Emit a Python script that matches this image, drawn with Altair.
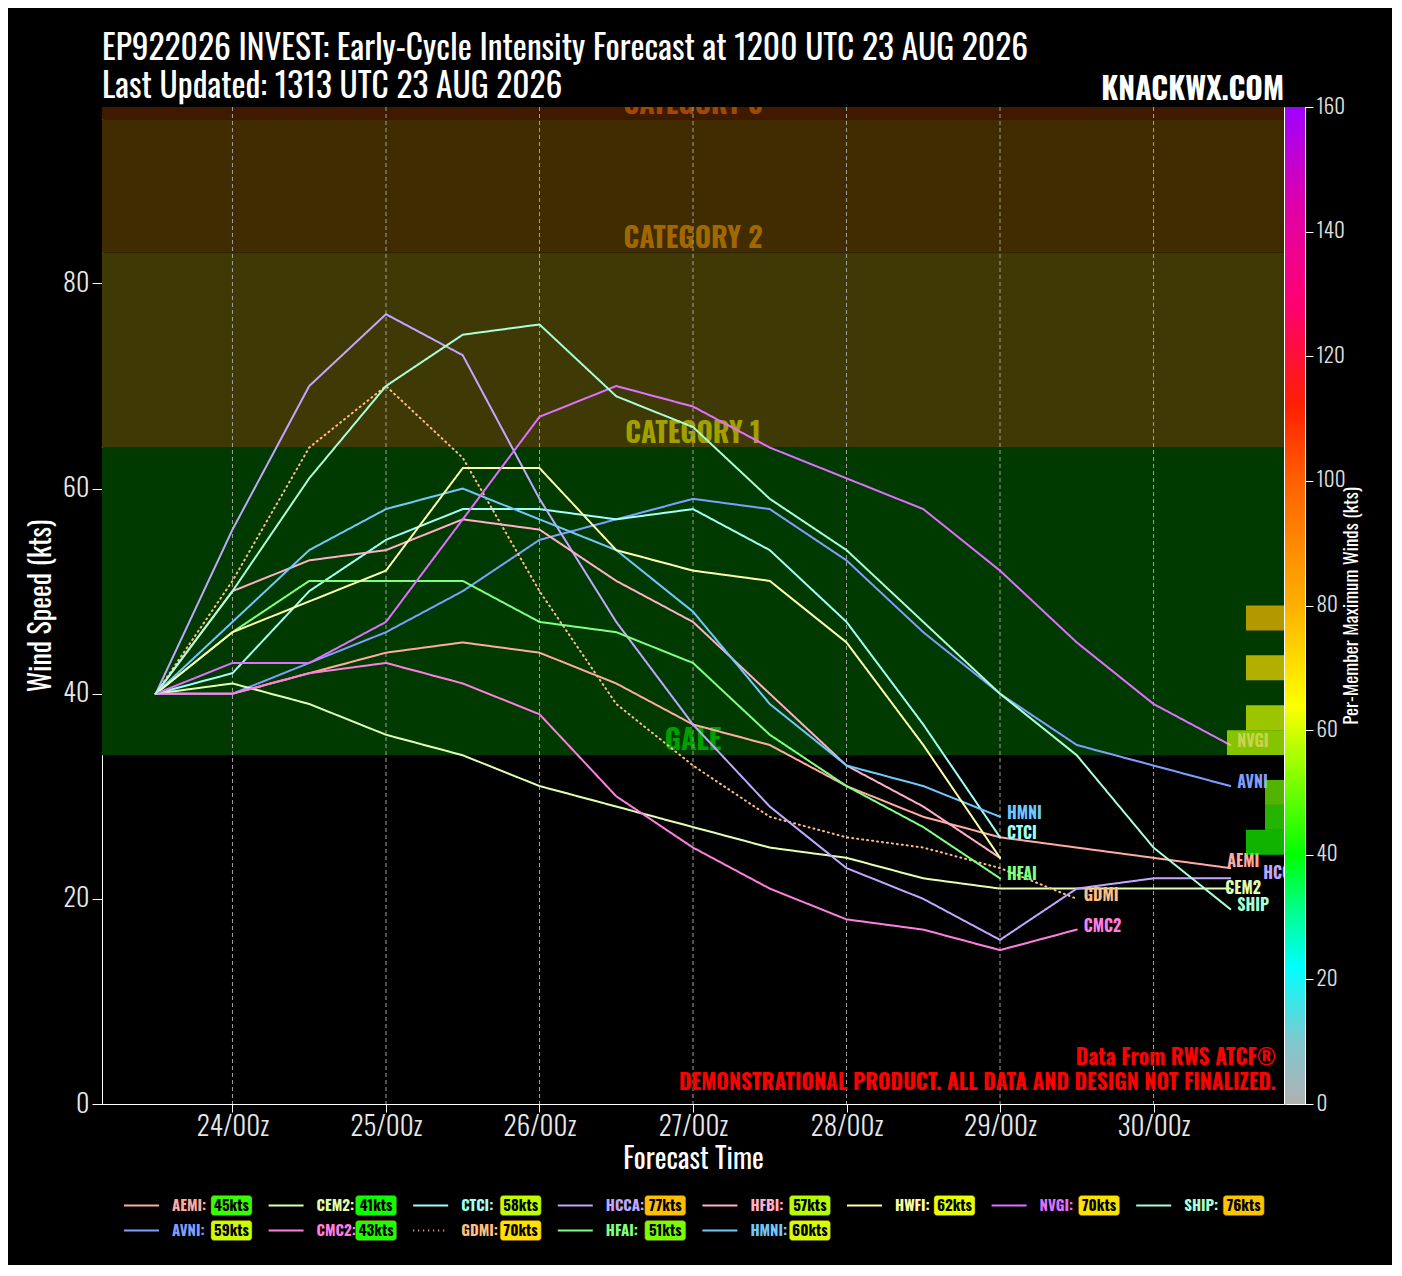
import altair as alt
import pandas as pd

FONT = "Oswald, 'Roboto Condensed', 'Liberation Sans Narrow', 'Arial Narrow', 'DejaVu Sans Condensed', sans-serif"

# ---------------- data ----------------
hours = [0, 12, 24, 36, 48, 60, 72, 84, 96, 108, 120, 132, 144, 156, 168]
models = ["AEMI", "AVNI", "CEM2", "CMC2", "CTCI", "GDMI", "HCCA",
          "HFAI", "HFBI", "HMNI", "HWFI", "NVGI", "SHIP"]

AEMI = [40, 40, 42, 44, 45, 44, 41, 37, 35, 31, 28, 26, 25, 24, 23]
AVNI = [40, 40, 43, 46, 50, 55, 57, 59, 58, 53, 46, 40, 35, 33, 31]
CEM2 = [40, 41, 39, 36, 34, 31, 29, 27, 25, 24, 22, 21, 21, 21, 21]
CMC2 = [40, 40, 42, 43, 41, 38, 30, 25, 21, 18, 17, 15, 17]
CTCI = [40, 42, 50, 55, 58, 58, 57, 58, 54, 47, 37, 26]
GDMI = [40, 51, 64, 70, 63, 50, 39, 33, 28, 26, 25, 23, 20]
HCCA = [40, 56, 70, 77, 73, 59, 47, 37, 29, 23, 20, 16, 21, 22, 22]
HFAI = [40, 46, 51, 51, 51, 47, 46, 43, 36, 31, 27, 22]
HFBI = [40, 50, 53, 54, 57, 56, 51, 47, 40, 33, 29, 24]
HMNI = [40, 47, 54, 58, 60, 57, 54, 48, 39, 33, 31, 28]
HWFI = [40, 46, 49, 52, 62, 62, 54, 52, 51, 45, 35, 24]
NVGI = [40, 43, 43, 47, 57, 67, 70, 68, 64, 61, 58, 52, 45, 39, 35]
SHIP = [40, 50, 61, 70, 75, 76, 69, 66, 59, 54, 47, 40, 34, 25, 19]
series = {"AEMI": AEMI, "AVNI": AVNI, "CEM2": CEM2, "CMC2": CMC2, "CTCI": CTCI,
          "GDMI": GDMI, "HCCA": HCCA, "HFAI": HFAI, "HFBI": HFBI, "HMNI": HMNI,
          "HWFI": HWFI, "NVGI": NVGI, "SHIP": SHIP}
max_winds = [45, 59, 41, 43, 58, 70, 77, 51, 57, 60, 62, 70, 76]

legend_col = [0, 0, 1, 1, 2, 2, 3, 3, 4, 4, 5, 6, 7]
legend_row = [0, 1, 0, 1, 0, 1, 0, 1, 0, 1, 0, 0, 0]

tick_hours = [12, 36, 60, 84, 108, 132, 156]
tick_labels = ["24/00z", "25/00z", "26/00z", "27/00z", "28/00z", "29/00z", "30/00z"]

band_names = ["GALE", "CATEGORY 1", "CATEGORY 2", "CATEGORY 3"]
band_lo = [34, 64, 83, 96]
band_hi = [64, 83, 96, 113]

hist_lo = [24.3, 26.73, 29.16, 31.59, 34.02, 36.45, 38.88, 41.31, 43.74, 46.17]
hist_hi = [26.73, 29.16, 31.59, 34.02, 36.45, 38.88, 41.31, 43.74, 46.17, 48.6]
hist_count = [2, 1, 1, 0, 3, 2, 0, 2, 0, 2]
hist_wind = [42, 45, 51, 54, 58, 61, 65, 70, 73, 76.5]

labeled_std = ["HMNI", "CTCI", "HFAI", "GDMI", "CMC2", "NVGI", "AVNI", "SHIP"]

notes = ["Data From RWS ATCF\u00ae",
         "DEMONSTRATIONAL PRODUCT. ALL DATA AND DESIGN NOT FINALIZED."]
note_kt = [4.4, 1.95]

title_lines = ["EP922026 INVEST: Early-Cycle Intensity Forecast at 1200 UTC 23 AUG 2026",
               "Last Updated: 1313 UTC 23 AUG 2026"]

# ---------------- styles ----------------
line_colors = ["#ffaba0", "#7f9fff", "#e0ffb0", "#ff7fe0", "#a0fff8", "#ffbf80", "#c0a8ff",
               "#80ff80", "#ffb0c8", "#70c8ff", "#ffffa8", "#e070ff", "#a8ffd8"]
dash_range = [[1, 4] if m == "GDMI" else [1, 0] for m in models]
band_colors = ["#003a00", "#3f3a05", "#402c00", "#401a00"]
band_text_colors = ["#00a000", "#a0a000", "#a06800", "#a04a00"]
cmap_vals = [0, 10, 22, 32, 40, 64, 80, 100, 112, 128, 144, 160]
cmap_cols = ["#b0b0b0", "#80c8d0", "#00ffff", "#00ff80", "#00ff00", "#ffff00",
             "#ffb000", "#ff6000", "#ff2000", "#ff0070", "#e000a8", "#a000ff"]

W, H = 1182, 997
XMIN, XMAX = -8.4, 176.4
YMAX = 97.2

# ---------------- tables ----------------
df_lines = pd.DataFrame([{"model": m, "hour": h, "kt": v}
                         for m in models for h, v in zip(hours, series[m])])
df_last = pd.DataFrame([{"model": m, "hour": hours[len(series[m]) - 1], "kt": series[m][-1]}
                        for m in models])
df_bands = pd.DataFrame({"band": band_names, "lo": band_lo, "hi": band_hi})
df_grid = pd.DataFrame({"h": tick_hours})
df_hist = pd.DataFrame({"lo": hist_lo, "hi": hist_hi, "n": hist_count, "wind": hist_wind})
df_notes = pd.DataFrame({"txt": notes, "kt": note_kt})
df_leg = pd.DataFrame({"model": models, "col": legend_col, "row": legend_row,
                       "lab": [m + ":" for m in models],
                       "badge": [f"{w}kts" for w in max_winds], "wind": max_winds})

xs = alt.Scale(domain=[XMIN, XMAX], nice=False, zero=False)
ys = alt.Scale(domain=[0, YMAX], nice=False)
model_color = alt.Scale(domain=models, range=line_colors)
model_dash = alt.Scale(domain=models, range=dash_range)
cmap = alt.Scale(domain=cmap_vals, range=cmap_cols, interpolate="rgb")

label_expr = "[" + ",".join(f"'{t}'" for t in tick_labels) + "][round((datum.value-12)/24)]"

x_axis = alt.Axis(values=tick_hours, labelExpr=label_expr, title="Forecast Time", grid=False,
                  domainColor="white", tickColor="white", tickSize=8, labelColor="#e8e8e8",
                  labelFontSize=27, labelFont=FONT, labelFontWeight=300, labelPadding=2,
                  titleFont=FONT, titleFontSize=28, titleColor="white", titleFontWeight="normal",
                  titlePadding=6)
y_axis = alt.Axis(values=[0, 20, 40, 60, 80], title="Wind Speed (kts)", grid=False,
                  domainColor="white", tickColor="white", tickSize=10, labelColor="#e8e8e8",
                  labelFontSize=26, labelFont=FONT, labelFontWeight=300, labelPadding=3,
                  titleFont=FONT, titleFontSize=28, titleColor="white", titleFontWeight="normal",
                  titlePadding=6)

bands = alt.Chart(df_bands).mark_rect(clip=True).encode(
    x=alt.XDatum(XMIN, scale=xs), x2=alt.X2Datum(XMAX),
    y=alt.Y("lo:Q", scale=ys), y2="hi:Q",
    fill=alt.Fill("band:N", scale=alt.Scale(domain=band_names, range=band_colors), legend=None))

band_text = alt.Chart(df_bands).mark_text(
    font=FONT, fontSize=28, fontWeight="bold", baseline="alphabetic", dy=-5, clip=True).encode(
    x=alt.XDatum((XMIN + XMAX) / 2, scale=xs), y=alt.Y("lo:Q", scale=ys), text="band:N",
    color=alt.Color("band:N", scale=alt.Scale(domain=band_names, range=band_text_colors), legend=None))

grid = alt.Chart(df_grid).mark_rule(strokeDash=[4, 3], color="#a0a0a0", strokeWidth=1).encode(
    x=alt.X("h:Q", scale=xs))

lines = alt.Chart(df_lines).mark_line(strokeWidth=2, strokeCap="round", clip=True).encode(
    x=alt.X("hour:Q", scale=xs, axis=x_axis),
    y=alt.Y("kt:Q", scale=ys, axis=y_axis),
    stroke=alt.Stroke("model:N", scale=model_color, legend=None),
    strokeDash=alt.StrokeDash("model:N", scale=model_dash, legend=None),
    detail="model:N", order="hour:Q")


def end_label(names, dx, dy):
    return alt.Chart(df_last).transform_filter(
        alt.FieldOneOfPredicate(field="model", oneOf=names)
    ).mark_text(font=FONT, fontSize=16, fontWeight="bold", align="left", baseline="middle",
                dx=dx, dy=dy, clip=True).encode(
        x=alt.X("hour:Q", scale=xs), y=alt.Y("kt:Q", scale=ys), text="model:N",
        color=alt.Color("model:N", scale=model_color, legend=None))


labels = [end_label(labeled_std, 7, -3), end_label(["AEMI"], -3, -6),
          end_label(["CEM2"], -5, 0), end_label(["HCCA"], 33, -4)]

knack = alt.Chart(df_grid).transform_filter("datum.h == 12").mark_text(
    font=FONT, fontSize=30, fontWeight="bold", align="right", baseline="middle",
    color="white").encode(x=alt.XDatum(XMAX, scale=xs), y=alt.YDatum(98.8, scale=ys),
                          text=alt.value("KNACKWX.COM"))

note_text = alt.Chart(df_notes).mark_text(
    font=FONT, fontSize=21.5, fontWeight="bold", align="right", baseline="middle",
    color="#ff0000", dx=-8).encode(x=alt.XDatum(XMAX, scale=xs), y=alt.Y("kt:Q", scale=ys),
                                   text="txt:N")

inner = alt.layer(bands, band_text, grid, lines, *labels, knack, note_text).resolve_scale(
    color="independent")

hist = alt.Chart(df_hist).mark_rect(opacity=0.7).encode(
    x=alt.X("n:Q", scale=alt.Scale(domain=[0, 62.2], reverse=True, nice=False), axis=None),
    x2=alt.X2Datum(0),
    y=alt.Y("lo:Q", scale=ys), y2="hi:Q",
    fill=alt.Fill("wind:Q", scale=cmap, legend=None))

main = alt.layer(inner, hist).resolve_scale(x="independent", fill="independent").properties(
    width=W, height=H)

cbar = alt.Chart(pd.DataFrame({"lo": [0], "hi": [160]})).mark_rect(
    fill=alt.Gradient(gradient="linear",
                      stops=[alt.GradientStop(color=c, offset=v / 160) for v, c in zip(cmap_vals, cmap_cols)],
                      x1=0, x2=0, y1=1, y2=0)).encode(
    x=alt.XDatum(0, scale=alt.Scale(domain=[0, 1]), axis=None), x2=alt.X2Datum(1),
    y=alt.Y("lo:Q", scale=alt.Scale(domain=[0, 160], nice=False),
            axis=alt.Axis(orient="right", values=list(range(0, 161, 20)),
                          title="Per-Member Maximum Winds (kts)", titleAngle=270,
                          grid=False, domain=False, tickColor="white", tickSize=8,
                          labelColor="#e0e0e0", labelFontSize=21, labelFont=FONT,
                          labelFontWeight=300, labelPadding=3, titleFont=FONT,
                          titleFontSize=19, titleColor="white", titleFontWeight="normal",
                          titlePadding=16)),
    y2="hi:Q").properties(width=20, height=H)

# legend (column slots 144.6 px apart; first slot 22 px right of the plot's left edge)
LW = 1182
lx = alt.Scale(domain=[-0.152, -0.152 + LW / 144.6], nice=False, zero=False)
lyy = alt.Scale(domain=[-0.5, 1.5], reverse=True, nice=False, zero=False)
leg_rule = alt.Chart(df_leg).mark_rule(strokeWidth=2, x2Offset=35).encode(
    x=alt.X("col:Q", scale=lx, axis=None), x2="col:Q",
    y=alt.Y("row:Q", scale=lyy, axis=None),
    stroke=alt.Stroke("model:N", scale=model_color, legend=None),
    strokeDash=alt.StrokeDash("model:N", scale=alt.Scale(domain=models, range=[[1, 3] if m == "GDMI" else [1, 0] for m in models]), legend=None))
leg_lab = alt.Chart(df_leg).mark_text(font=FONT, fontSize=15, fontWeight="bold", align="left",
                                      baseline="middle", dx=48).encode(
    x=alt.X("col:Q", scale=lx, axis=None), y=alt.Y("row:Q", scale=lyy, axis=None),
    text="lab:N", color=alt.Color("model:N", scale=model_color, legend=None))
leg_badge = alt.Chart(df_leg).mark_rect(xOffset=87, x2Offset=128, yOffset=-10, y2Offset=10,
                                        cornerRadius=3, stroke="#805000", strokeWidth=0.5).encode(
    x=alt.X("col:Q", scale=lx, axis=None), x2="col:Q",
    y=alt.Y("row:Q", scale=lyy, axis=None), y2="row:Q",
    fill=alt.Fill("wind:Q", scale=cmap, legend=None))
leg_badge_txt = alt.Chart(df_leg).mark_text(font=FONT, fontSize=15, fontWeight="bold",
                                            align="center", baseline="middle", dx=107.5,
                                            color="black").encode(
    x=alt.X("col:Q", scale=lx, axis=None), y=alt.Y("row:Q", scale=lyy, axis=None),
    text="badge:N")
legend = alt.layer(leg_rule, leg_lab, leg_badge, leg_badge_txt).properties(
    width=LW, height=50, view=alt.ViewBackground(strokeOpacity=0))

top = alt.hconcat(main, cbar, spacing=1, bounds="flush")
chart = alt.vconcat(top, legend, spacing=18).properties(
    title=alt.TitleParams(text=title_lines, anchor="start", frame="group", font=FONT,
                          fontSize=33.5, fontWeight="normal", color="white", lineHeight=38,
                          offset=-30),
    padding={"left": 20, "top": 24, "right": 30, "bottom": 22}
).configure(background="black").configure_view(stroke="white", strokeWidth=1, fill="black")

chart.save("out.html", embed_options={"renderer": "svg", "actions": False})
